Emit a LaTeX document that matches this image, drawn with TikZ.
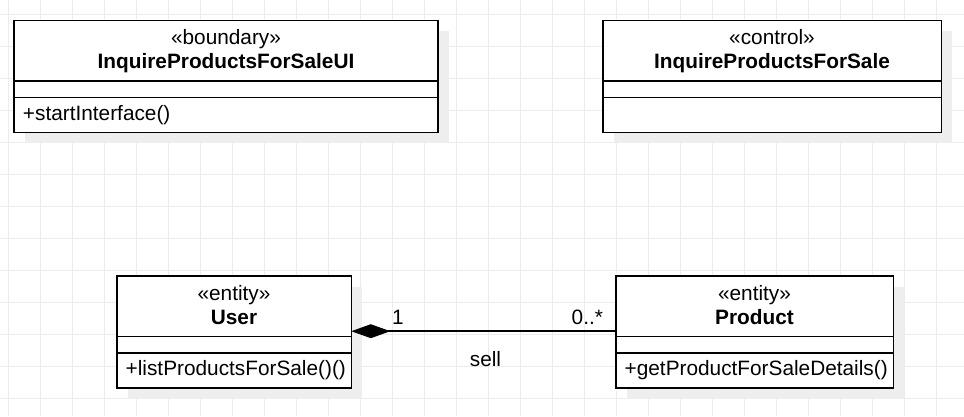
\documentclass[tikz,border=0pt]{standalone}
\usepackage{fontspec}
\setmainfont{Liberation Sans}
\usetikzlibrary{arrows.meta,positioning,backgrounds}
\definecolor{gridgray}{HTML}{ECECEC}
\definecolor{shadowgray}{HTML}{EEEEEE}
\newcommand{\umlfont}{\fontsize{20.8pt}{24pt}\selectfont}
\newcommand{\headstrut}{\rule{0pt}{19pt}}

\begin{document}
\begin{tikzpicture}[
  x=1pt, y=-1pt,
  every node/.style={font=\umlfont},
  box/.style={draw,line width=1.6pt,fill=white,inner sep=0pt,outer sep=0pt},
  classhead/.style={box,anchor=north west,minimum width=#1,minimum height=60.5pt,align=center},
  classattr/.style={box,minimum width=#1,minimum height=16.5pt},
  classops/.style={box,text width=#1-18pt,inner xsep=9pt,minimum height=35pt,align=left},
  composition/.style={line width=1.5pt,arrows={Diamond[length=39pt,width=14pt]-}},
  mult/.style={inner sep=0pt},
  gridline/.style={draw=gridgray,line width=1pt}
]
  \useasboundingbox (0,0) rectangle (964,416);

  % boundary class
  \node[classhead=424pt] (uihead) at (14,20.3) {\headstrut«boundary»\\\textbf{InquireProductsForSaleUI}\strut};
  \node[classattr=424pt,below=0pt of uihead] (uiattr) {};
  \node[classops=424pt,below=0pt of uiattr] (uiops) {+startInterface()};

  % control class
  \node[classhead=338.6pt] (ctlhead) at (602.7,20.3) {\headstrut«control»\\\textbf{InquireProductsForSale}\strut};
  \node[classattr=338.6pt,below=0pt of ctlhead] (ctlattr) {};
  \node[classops=338.6pt,below=0pt of ctlattr] (ctlops) {};

  % entity classes
  \node[classhead=234.6pt] (userhead) at (116.7,276) {\headstrut«entity»\\\textbf{User}\strut};
  \node[classattr=234.6pt,below=0pt of userhead] (userattr) {};
  \node[classops=234.6pt,below=0pt of userattr] (userops) {+listProductsForSale()()};

  \node[classhead=277.6pt] (prodhead) at (615.7,276) {\headstrut«entity»\\\textbf{Product}\strut};
  \node[classattr=277.6pt,below=0pt of prodhead] (prodattr) {};
  \node[classops=277.6pt,below=0pt of prodattr] (prodops) {+getProductForSaleDetails()};

  % association
  \draw[composition] ([yshift=5.3pt]userhead.south east) -- node[mult,below=19pt,xshift=2pt]{sell}
    ([yshift=5.3pt]prodhead.south west)
    node[mult,pos=0,anchor=south west,xshift=40pt,yshift=6pt]{1}
    node[mult,pos=1,anchor=south east,xshift=-12pt,yshift=6pt]{0..*};

  \begin{scope}[on background layer]
    \foreach \gx in {0,...,29}
      \draw[gridline] (8.3+32*\gx,0) -- (8.3+32*\gx,416);
    \foreach \gy in {0,...,12}
      \draw[gridline] (0,14.5+32*\gy) -- (964,14.5+32*\gy);
    \foreach \cls in {ui,ctl,user,prod}
      \fill[shadowgray] ([shift={(11,11)}]\cls head.north west) rectangle ([shift={(11,11)}]\cls ops.south east);
  \end{scope}
\end{tikzpicture}
\end{document}
